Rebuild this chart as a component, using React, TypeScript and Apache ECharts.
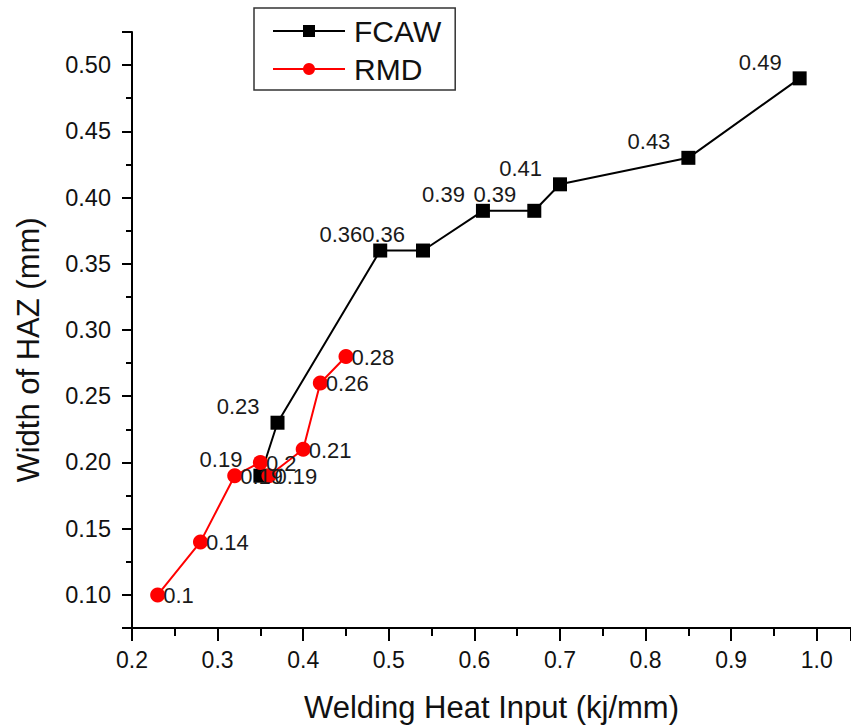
import React, { useEffect, useRef } from "react";
import * as echarts from "echarts";

const fcawX = [0.35, 0.37, 0.49, 0.54, 0.61, 0.67, 0.70, 0.85, 0.98];
const fcawY = [0.19, 0.23, 0.36, 0.36, 0.39, 0.39, 0.41, 0.43, 0.49];
const rmdX = [0.23, 0.28, 0.32, 0.35, 0.36, 0.40, 0.42, 0.45];
const rmdY = [0.10, 0.14, 0.19, 0.20, 0.19, 0.21, 0.26, 0.28];

const FONT = "Arial, 'Liberation Sans', sans-serif";

export default function App() {
  const ref = useRef<HTMLDivElement>(null);
  useEffect(() => {
    if (!ref.current) return;
    const chart = echarts.init(ref.current, null, { renderer: "svg" });
    const fcaw = fcawX.map((x, i) => [x, fcawY[i]]);
    const rmd = rmdX.map((x, i) => [x, rmdY[i]]);
    chart.setOption({
      animation: false,
      backgroundColor: "#ffffff",
      textStyle: { fontFamily: FONT },
      grid: { left: 132, right: 0, top: 32, bottom: 100, containLabel: false },
      legend: {
        left: 254,
        top: 8,
        orient: "vertical",
        borderColor: "#333",
        borderWidth: 1.5,
        padding: [8, 14, 6, 18],
        itemGap: 8,
        itemWidth: 72,
        itemHeight: 15,
        textStyle: { fontSize: 30, color: "#111", fontFamily: FONT, padding: [0, 0, 0, 4] },
        data: ["FCAW", "RMD"],
      },
      xAxis: {
        type: "value",
        min: 0.2,
        max: 1.04,
        interval: 0.1,
        name: "Welding Heat Input (kj/mm)",
        nameLocation: "middle",
        nameGap: 64,
        nameTextStyle: { fontSize: 31, color: "#111", fontFamily: FONT },
        axisLine: { show: true, onZero: false, lineStyle: { color: "#000", width: 2 } },
        axisTick: { show: true, inside: false, length: 13, lineStyle: { color: "#000", width: 2 } },
        minorTick: { show: true, splitNumber: 2, length: 8, lineStyle: { color: "#000", width: 2 } },
        splitLine: { show: false },
        axisLabel: {
          fontSize: 23,
          color: "#111",
          margin: 20,
          showMaxLabel: false,
          formatter: (v: number) => (Math.abs(v - 1.04) < 1e-6 ? "" : v.toFixed(1)),
        },
      },
      yAxis: {
        type: "value",
        min: 0.075,
        max: 0.525,
        splitNumber: 9,
        name: "Width of HAZ (mm)",
        nameLocation: "middle",
        nameGap: 88,
        nameTextStyle: { fontSize: 31, color: "#111", fontFamily: FONT, padding: [0, 40, 0, 0] },
        axisLine: { show: true, onZero: false, lineStyle: { color: "#000", width: 2 } },
        axisTick: { show: true, inside: false, length: 10, lineStyle: { color: "#000", width: 2 } },
        minorTick: { show: true, splitNumber: 2, length: 6, lineStyle: { color: "#000", width: 2 } },
        splitLine: { show: false },
        axisLabel: {
          fontSize: 23.5,
          color: "#111",
          margin: 21,
          showMinLabel: false,
          showMaxLabel: false,
          formatter: (v: number) => {
            const r = Math.round(v * 1000) / 1000;
            if (Math.abs(r * 20 - Math.round(r * 20)) > 1e-6) return "";
            return r.toFixed(2);
          },
        },
      },
      series: [
        {
          name: "FCAW",
          type: "line",
          data: fcaw,
          symbol: "rect",
          symbolSize: 14,
          lineStyle: { color: "#000", width: 2 },
          itemStyle: { color: "#000" },
          label: {
            show: true,
            position: "left",
            distance: 11,
            offset: [0, -16],
            fontSize: 22,
            color: "#1a1a1a",
            fontFamily: FONT,
            formatter: (p: any) => String(p.value[1]),
          },
          z: 2,
        },
        {
          name: "RMD",
          type: "line",
          data: rmd,
          symbol: "circle",
          symbolSize: 15,
          lineStyle: { color: "#ff0000", width: 2 },
          itemStyle: { color: "#ff0000" },
          label: {
            show: true,
            position: "right",
            distance: -2,
            offset: [0, 1],
            fontSize: 22,
            color: "#1a1a1a",
            fontFamily: FONT,
            formatter: (p: any) => String(p.value[1]),
          },
          z: 3,
        },
      ],
    });
    return () => chart.dispose();
  }, []);
  return <div ref={ref} style={{ width: 851, height: 728, position: "absolute", left: 0, top: 0 }} />;
}
